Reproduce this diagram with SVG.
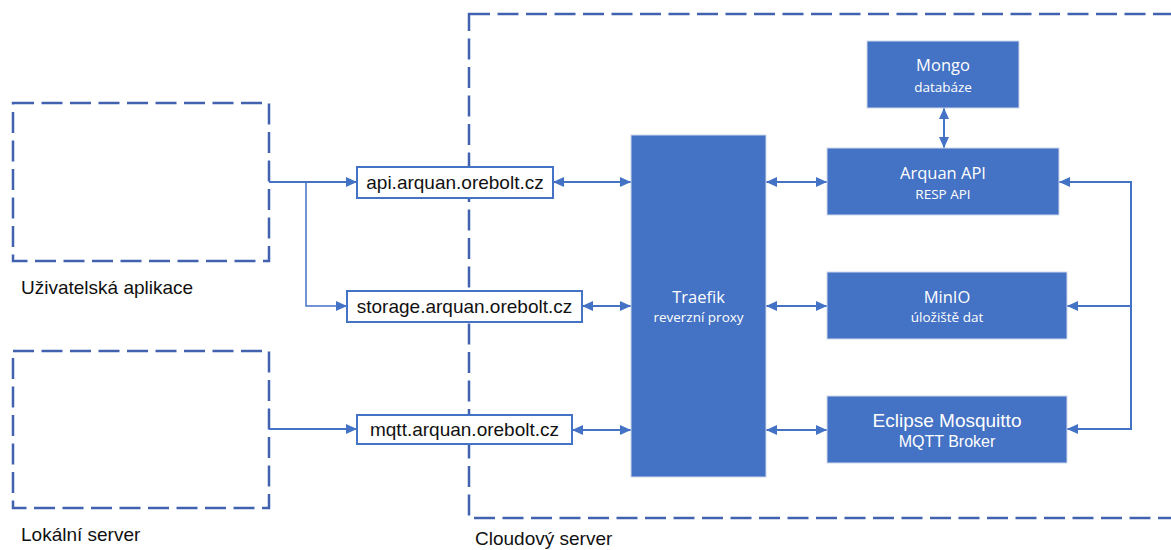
<svg xmlns="http://www.w3.org/2000/svg" width="1171" height="550" viewBox="0 0 1171 550">
  <style>
    .dash { fill: none; stroke: #4262b0; stroke-width: 2.5; stroke-dasharray: 21 7.5; }
    .dom { fill: #ffffff; stroke: #4472c4; stroke-width: 2; }
    .svc { fill: #4472c4; stroke: #cfd8ea; stroke-width: 1; }
    .conn { fill: none; stroke: #4472c4; stroke-width: 2; }
    .thin { stroke-width: 1.5; }
    .lbl { font-family: "Liberation Sans", Arial, sans-serif; font-size: 19px; fill: #111111; }
    .domt { font-family: "Liberation Sans", Arial, sans-serif; font-size: 19px; fill: #111111; text-anchor: middle; }
    .t1 { font-family: "Open Sans", "Noto Sans", sans-serif; font-size: 16.5px; fill: #ffffff; text-anchor: middle; }
    .t2 { font-family: "Open Sans", "Noto Sans", sans-serif; font-size: 13.5px; fill: #ffffff; text-anchor: middle; }
    .a1 { font-family: "Liberation Sans", Arial, sans-serif; font-size: 19px; fill: #ffffff; text-anchor: middle; }
    .a2 { font-family: "Liberation Sans", Arial, sans-serif; font-size: 16px; fill: #ffffff; text-anchor: middle; }
  </style>
  <defs>
    <marker id="arr" markerUnits="userSpaceOnUse" markerWidth="12" markerHeight="10" refX="11" refY="5" orient="auto-start-reverse">
      <path d="M0,0 L11,5 L0,10 Z" fill="#4472c4"/>
    </marker>
  </defs>

  <g id="cloud-server">
    <rect class="dash" x="469" y="14" width="730" height="504"/>
    <text class="lbl" x="475" y="545">Cloudový server</text>
  </g>

  <g id="uzivatelska-aplikace">
    <rect class="dash" x="13" y="103" width="256" height="158"/>
    <text class="lbl" x="21" y="294">Uživatelská aplikace</text>
  </g>

  <g id="lokalni-server">
    <rect class="dash" x="13" y="351" width="256" height="157"/>
    <text class="lbl" x="21" y="541">Lokální server</text>
  </g>

  <g id="connectors">
    <path class="conn" d="M269,182 L357,182" marker-end="url(#arr)"/>
    <path class="conn thin" d="M306,182 L306,306 L347,306" marker-end="url(#arr)"/>
    <path class="conn" d="M269,429 L357,429" marker-end="url(#arr)"/>

    <path class="conn" d="M553,182 L631,182" marker-start="url(#arr)" marker-end="url(#arr)"/>
    <path class="conn" d="M582,306 L631,306" marker-start="url(#arr)" marker-end="url(#arr)"/>
    <path class="conn" d="M572,430 L631,430" marker-start="url(#arr)" marker-end="url(#arr)"/>

    <path class="conn" d="M766,182 L827,182" marker-start="url(#arr)" marker-end="url(#arr)"/>
    <path class="conn" d="M766,306 L827,306" marker-start="url(#arr)" marker-end="url(#arr)"/>
    <path class="conn" d="M766,430 L827,430" marker-start="url(#arr)" marker-end="url(#arr)"/>

    <path class="conn" d="M944,108 L944,148" marker-start="url(#arr)" marker-end="url(#arr)"/>

    <path class="conn" d="M1059,182 L1131,182 L1131,429 L1067,429" marker-start="url(#arr)" marker-end="url(#arr)"/>
    <path class="conn" d="M1131,306 L1067,306" marker-end="url(#arr)"/>
  </g>

  <g id="api-domain">
    <rect class="dom" x="357" y="167" width="196" height="31"/>
    <text class="domt" x="455" y="189">api.arquan.orebolt.cz</text>
  </g>
  <g id="storage-domain">
    <rect class="dom" x="347" y="291" width="235" height="31"/>
    <text class="domt" x="464.5" y="313">storage.arquan.orebolt.cz</text>
  </g>
  <g id="mqtt-domain">
    <rect class="dom" x="357" y="415" width="215" height="29"/>
    <text class="domt" x="464.5" y="436">mqtt.arquan.orebolt.cz</text>
  </g>

  <g id="traefik">
    <rect class="svc" x="631" y="135" width="135" height="342"/>
    <text class="t1" x="698.5" y="303">Traefik</text>
    <text class="t2" x="698.5" y="322">reverzní proxy</text>
  </g>

  <g id="mongo">
    <rect class="svc" x="867" y="41" width="152" height="67"/>
    <text class="t1" x="943" y="71">Mongo</text>
    <text class="t2" x="943" y="92">databáze</text>
  </g>

  <g id="arquan-api">
    <rect class="svc" x="827" y="148" width="232" height="67"/>
    <text class="t1" x="943" y="179">Arquan API</text>
    <text class="t2" x="943" y="199">RESP API</text>
  </g>

  <g id="minio">
    <rect class="svc" x="827" y="272" width="240" height="67"/>
    <text class="t1" x="947" y="303">MinIO</text>
    <text class="t2" x="947" y="322">úložiště dat</text>
  </g>

  <g id="mosquitto">
    <rect class="svc" x="827" y="396" width="240" height="67"/>
    <text class="a1" x="947" y="427">Eclipse Mosquitto</text>
    <text class="a2" x="947" y="447">MQTT Broker</text>
  </g>
</svg>
